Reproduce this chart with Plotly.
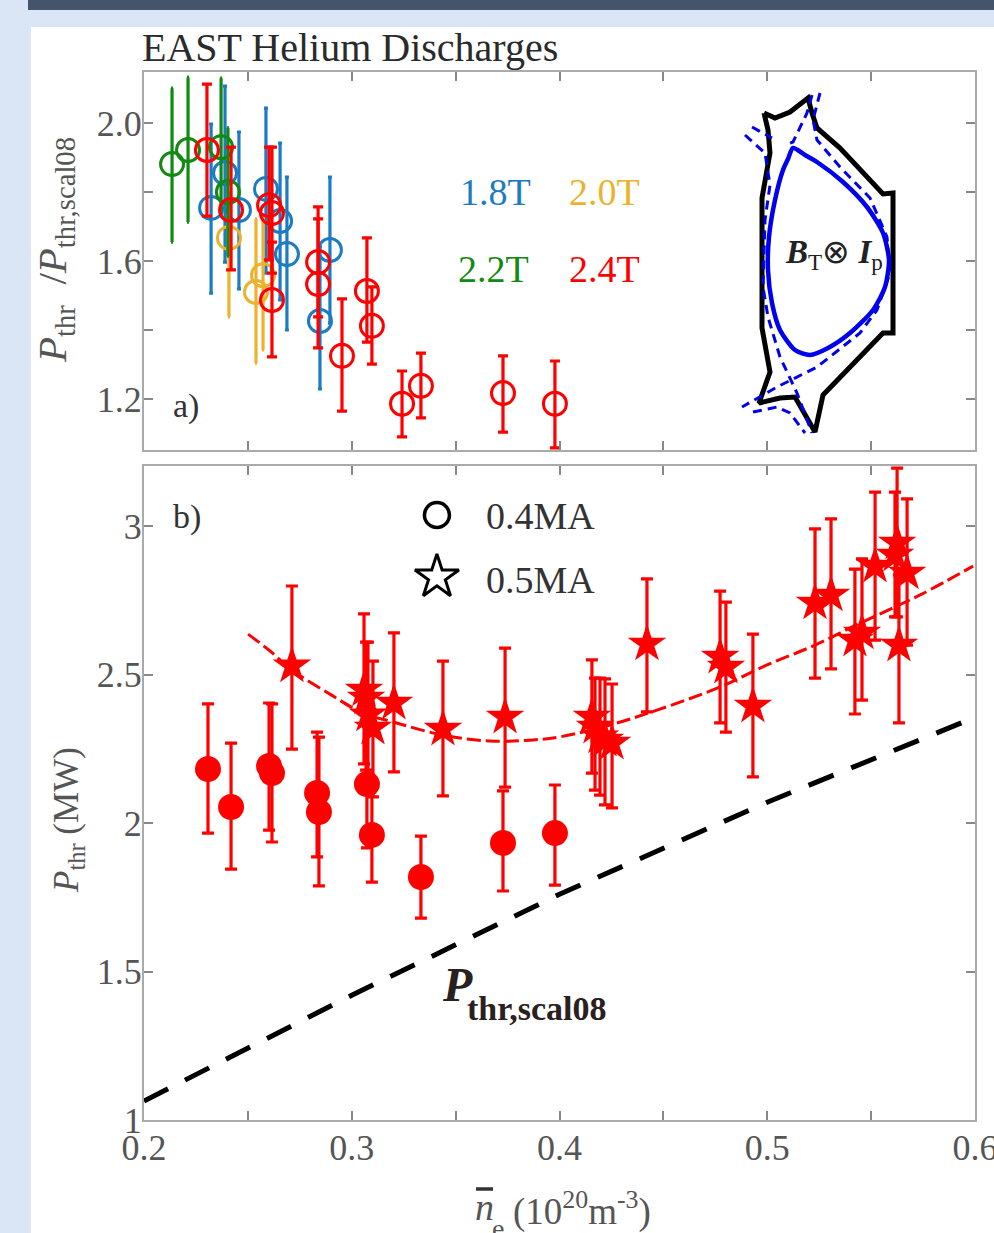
import plotly.graph_objects as go

W, H = 994, 1233
# ---- panel a) values: density, ratio, upper and lower error limits
blue_x = [.2323, .2390, .2457, .2587, .2655, .2688, .2895, .2847]
blue_y = [1.754, 1.855, 1.748, 1.809, 1.716, 1.620, 1.632, 1.426]
blue_hi = [1.997, 2.107, 1.974, 2.043, 1.942, 1.843, 1.843, 1.641]
blue_lo = [1.507, 1.597, 1.519, 1.565, 1.487, 1.400, 1.420, 1.229]
orange_x = [.2409, .2539, .2573]
orange_y = [1.667, 1.510, 1.559]
orange_hi = [1.797, 1.722, 1.728]
orange_lo = [1.438, 1.304, 1.342]
green_x = [.2135, .2212, .2371, .2404]
green_y = [1.881, 1.922, 1.930, 1.800]
green_hi = [2.101, 2.133, 2.130, 1.986]
green_lo = [1.655, 1.713, 1.730, 1.614]
red_x = [.2303, .2419, .2602, .2616, .2616, .2838, .2838, .2953, .3073, .3097, .3242, .3333, .3728, .3978]
red_y = [1.922, 1.748, 1.762, 1.739, 1.487, 1.597, 1.533, 1.325, 1.513, 1.412, 1.186, 1.238, 1.217, 1.186]
red_hi = [2.113, 1.930, 1.930, 1.930, 1.655, 1.757, 1.722, 1.490, 1.667, 1.525, 1.281, 1.333, 1.325, 1.310]
red_lo = [1.730, 1.574, 1.603, 1.565, 1.322, 1.438, 1.348, 1.165, 1.365, 1.301, 1.090, 1.145, 1.104, 1.058]
# ---- panel b) values
circ_x = [.2308, .2419, .2602, .2616, .2833, .2842, .3073, .3097, .3333, .3728, .3978]
circ_y = [2.182, 2.054, 2.192, 2.168, 2.101, 2.037, 2.131, 1.960, 1.818, 1.933, 1.966]
circ_hi = [2.401, 2.269, 2.404, 2.401, 2.306, 2.289, 2.340, 2.118, 1.956, 2.108, 2.128]
circ_lo = [1.966, 1.845, 1.976, 1.936, 1.886, 1.788, 1.916, 1.801, 1.680, 1.771, 1.791]
star_x = [.2712, .3059, .3069, .3078, .3102, .3203, .3439, .3738, .4156, .4171, .4195, .4219, .4253,
          .4421, .4773, .4801, .4931, .5230, .5307, .5422, .5456, .5519, .5625, .5615, .5673, .5634]
star_y = [2.529, 2.448, 2.421, 2.364, 2.320, 2.404, 2.316, 2.357, 2.357, 2.323, 2.290, 2.279, 2.269,
          2.603, 2.559, 2.525, 2.394, 2.741, 2.768, 2.616, 2.640, 2.865, 2.943, 2.902, 2.842, 2.599]
star_hi = [2.798, 2.704, 2.609, 2.609, 2.545, 2.640, 2.545, 2.589, 2.549, 2.488, 2.488, 2.485, 2.468,
           2.822, 2.781, 2.744, 2.636, 2.990, 3.024, 2.855, 2.889, 3.114, 3.195, 3.114, 3.091, 2.835]
star_lo = [2.249, 2.199, 2.178, 2.111, 2.088, 2.172, 2.091, 2.121, 2.168, 2.111, 2.094, 2.061, 2.051,
           2.374, 2.337, 2.306, 2.155, 2.488, 2.519, 2.367, 2.414, 2.616, 2.694, 2.694, 2.599, 2.337]
fit_x = [.2501, .2607, .2712, .2895, .3054, .3199, .3439, .3666, .3858, .4002, .4243, .4469, .4773,
         .4999, .5230, .5447, .5736, .5991]
fit_y = [2.636, 2.579, 2.515, 2.434, 2.370, 2.340, 2.296, 2.276, 2.279, 2.290, 2.330, 2.380, 2.458,
         2.532, 2.599, 2.673, 2.768, 2.865]
scal_x = [.2, .3, .4, .5, .5945]
scal_y = [1.064, 1.42, 1.76, 2.07, 2.34]
legend_x = [.341]
legend_circle_y = [3.037]
legend_star_y = [2.828]
# ---- inset cross-section (inset axes units)
wall_x = [764, 775, 790, 808, 812, 817, 840, 883, 893, 893, 883, 823, 815, 795, 780, 759, 770, 762, 762, 770, 768, 764]
wall_y = [113, 118, 112, 98, 113, 128, 148, 194, 193, 333, 333, 395, 432, 397, 398, 403, 372, 328, 198, 153, 130, 113]
lcfs_x = [793, 805, 817, 843, 867, 883, 889, 885, 873, 850, 828, 810, 795, 780, 772, 768, 769, 775, 783, 788, 793]
lcfs_y = [148, 155, 162, 182, 207, 233, 260, 287, 310, 333, 348, 355, 350, 330, 303, 270, 237, 200, 170, 159, 148]
sep1_x = [820, 813, 817, 840, 870, 887, 890, 877, 860, 817, 777, 742]
sep1_y = [93, 120, 140, 167, 198, 237, 273, 310, 333, 367, 387, 407]
sep2_x = [812, 807, 793, 785]
sep2_y = [95, 113, 142, 145]
sep3_x = [752, 772]
sep3_y = [127, 138]
sep4_x = [745, 765, 770, 765, 763, 768, 780, 797, 812]
sep4_y = [135, 153, 185, 220, 287, 317, 357, 393, 433]
sep5_x = [753, 777, 790, 805]
sep5_y = [412, 407, 413, 433]

BLUE, ORANGE, GREEN, RED = "#1b7cc4", "#ecb22e", "#128a12", "#ff0000"
GREY, TXT = "#aaaaaa", "#555555"
SERIF = "Liberation Serif"


def errs(y, hi, lo, color, cap, thick=3.2):
    return dict(type="data", symmetric=False,
                array=[h - v for h, v in zip(hi, y)],
                arrayminus=[v - l for v, l in zip(y, lo)],
                color=color, width=cap, thickness=thick)


fig = go.Figure()


def open_series(x, y, hi, lo, color, cap):
    fig.add_trace(go.Scatter(x=x, y=y, mode="markers", xaxis="x", yaxis="y",
                             error_y=errs(y, hi, lo, color, cap),
                             marker=dict(symbol="circle", size=23, color="rgba(0,0,0,0)",
                                         line=dict(color=color, width=3))))


open_series(blue_x, blue_y, blue_hi, blue_lo, BLUE, 2)
open_series(orange_x, orange_y, orange_hi, orange_lo, ORANGE, 1)
open_series(green_x, green_y, green_hi, green_lo, GREEN, 1)
open_series(red_x, red_y, red_hi, red_lo, RED, 5)

fig.add_trace(go.Scatter(x=scal_x, y=scal_y, mode="lines", xaxis="x2", yaxis="y2",
                         line=dict(color="black", width=5, dash="27px,19px")))
fig.add_trace(go.Scatter(x=fit_x, y=fit_y, mode="lines", xaxis="x2", yaxis="y2",
                         line=dict(color=RED, width=3, dash="14px,5px", shape="spline")))
fig.add_trace(go.Scatter(x=circ_x, y=circ_y, mode="markers", xaxis="x2", yaxis="y2",
                         error_y=errs(circ_y, circ_hi, circ_lo, RED, 6),
                         marker=dict(symbol="circle", size=26, color=RED)))
fig.add_trace(go.Scatter(x=star_x, y=star_y, mode="markers", xaxis="x2", yaxis="y2",
                         error_y=errs(star_y, star_hi, star_lo, RED, 6),
                         marker=dict(symbol="star", size=29, color=RED)))
fig.add_trace(go.Scatter(x=legend_x, y=legend_circle_y, mode="markers", xaxis="x2", yaxis="y2",
                         marker=dict(symbol="circle", size=25, color="white",
                                     line=dict(color="black", width=3.5))))
fig.add_trace(go.Scatter(x=legend_x, y=legend_star_y, mode="markers", xaxis="x2", yaxis="y2",
                         marker=dict(symbol="star", size=33, color="white",
                                     line=dict(color="black", width=3))))

fig.add_trace(go.Scatter(x=wall_x, y=wall_y, mode="lines", xaxis="x3", yaxis="y3",
                         line=dict(color="black", width=5)))
for sx, sy in [(sep1_x, sep1_y), (sep2_x, sep2_y), (sep3_x, sep3_y), (sep4_x, sep4_y), (sep5_x, sep5_y)]:
    fig.add_trace(go.Scatter(x=sx, y=sy, mode="lines", xaxis="x3", yaxis="y3",
                             line=dict(color="#0000ee", width=3, dash="9px,6px")))
fig.add_trace(go.Scatter(x=lcfs_x, y=lcfs_y, mode="lines", xaxis="x3", yaxis="y3",
                         line=dict(color="#0000ee", width=4.5, shape="spline", smoothing=0.7)))

x_ticks = [.2, .25, .3, .35, .4, .45, .5, .55, .6]
x_text = ["0.2", "", "0.3", "", "0.4", "", "0.5", "", "0.6"]
a_ticks = [1.2, 1.4, 1.6, 1.8, 2.0]
a_text = ["1.2", "", "1.6", "", "2.0"]
b_ticks = [1, 1.5, 2, 2.5, 3]
b_text = ["1", "1.5", "2", "2.5", "3"]


def ax(**kw):
    d = dict(showgrid=False, zeroline=False, showline=True, mirror="ticks", linecolor=GREY, linewidth=2,
             ticks="inside", ticklen=9, tickwidth=1.5, tickcolor="#888888", tickmode="array",
             ticklabeloverflow="allow",
             tickfont=dict(family=SERIF, size=36, color=TXT))
    d.update(kw)
    return d


def px(x):
    return x / W


def py(y):
    return 1 - y / H


layout = dict(
    width=W, height=H, autosize=False,
    margin=dict(l=0, r=0, t=0, b=0, pad=0, autoexpand=False), showlegend=False,
    paper_bgcolor="#dae5f5", plot_bgcolor="rgba(0,0,0,0)",
    xaxis=ax(domain=[px(144), px(975)], range=[.2, .6], tickvals=x_ticks, ticktext=[""] * 9, anchor="y"),
    yaxis=ax(domain=[py(450), py(72)], range=[1.052, 2.148], tickvals=a_ticks, ticktext=a_text, anchor="x",
             ticklabelstandoff=-7),
    xaxis2=ax(domain=[px(144), px(975)], range=[.2, .6], tickvals=x_ticks, ticktext=x_text, anchor="y2",
              ticklabelstandoff=-5),
    yaxis2=ax(domain=[py(1120), py(466)], range=[1, 3.202], tickvals=b_ticks, ticktext=b_text, anchor="x2",
              ticklabelstandoff=-7),
    xaxis3=dict(domain=[px(144), px(975)], range=[144, 975], visible=False, anchor="y3"),
    yaxis3=dict(domain=[py(450), py(72)], range=[450, 72], visible=False, anchor="x3"),
)
fig.update_layout(**layout)


def rect(x0, y0, x1, y1, color):
    fig.add_shape(type="rect", xref="paper", yref="paper", x0=px(x0), x1=px(x1), y0=py(y0), y1=py(y1),
                  fillcolor=color, line_width=0, layer="below")


rect(31, 27, W, H, "white")
rect(28, 0, W, 10, "#44546a")
fig.add_shape(type="line", xref="paper", yref="paper", x0=px(476), x1=px(493), y0=py(1189), y1=py(1189),
              line=dict(color="#333333", width=3.5))


def label(x, y, text, size, color="#333333", anchor="left", angle=0, family=SERIF):
    fig.add_annotation(xref="paper", yref="paper", x=px(x), y=py(y), text=text, showarrow=False,
                       xanchor=anchor, yanchor="middle", textangle=angle, align="left",
                       font=dict(family=family, size=size, color=color))


label(140, 48, "EAST Helium Discharges", 40, "#2a2a2a")
label(458, 192, "1.8T", 38, BLUE)
label(567, 192, "2.0T", 38, ORANGE)
label(456, 269, "2.2T", 38, GREEN)
label(567, 269, "2.4T", 38, RED)
label(171, 406, "a)", 34)
label(171, 517, "b)", 34)
label(484, 516, "0.4MA", 38)
label(484, 580, "0.5MA", 38)
label(783, 254, "<b><i>B</i></b><sub>T</sub>⊗ <b><i>I</i></b><sub>p</sub>", 33, "#222222")
label(440, 985, "<b><i>P</i></b>", 48, "#2a2020")
label(465, 1008, "<b>thr,scal08</b>", 34, "#2a2020")
label(55, 250, "<i>P</i><sub>thr</sub>  /<i>P</i><sub>thr,scal08</sub>", 41, TXT, "center", -90)
label(68, 820, "<i>P</i><sub>thr</sub> (MW)", 35, TXT, "center", -90)
label(473, 1207, "<i>n</i>", 38, TXT)
label(490, 1228, "e", 28, TXT)
label(511, 1209, "(10<sup>20</sup>m<sup>-3</sup>)", 37, TXT)

fig.write_html("out.html", config={"displayModeBar": False},
               post_script="document.body.style.margin='0';document.body.style.overflow='hidden';")
